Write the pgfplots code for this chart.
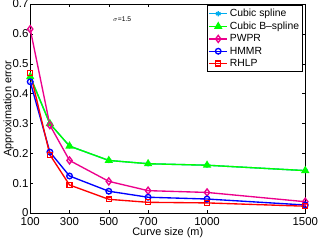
\documentclass[border=0pt]{standalone}
\usepackage{pgfplots}
\pgfplotsset{compat=1.18}
\usepackage{fontspec}
\setmainfont{Liberation Sans}
\begin{document}
\begin{tikzpicture}
\begin{axis}[
  scale only axis,
  width=264bp, height=201bp,
  xmin=100, xmax=1500, ymin=0, ymax=0.7,
  xtick={100,300,500,700,1000,1500},
  ytick={0,0.1,0.2,0.3,0.4,0.5,0.6,0.7},
  yticklabels={\raisebox{2.5bp}{0},0.1,0.2,0.3,0.4,0.5,0.6,0.7},
  xticklabels={100,300,500,700,1000,1500},
  tick align=inside,
  major tick length=3bp,
  axis line style={line width=0.9pt},
  tick style={black, line width=0.5pt},
  ticklabel style={font=\fontsize{11}{12}\selectfont},
  xticklabel style={yshift=-3.5bp, inner xsep=1pt, inner ysep=0pt, text depth=0pt},
  yticklabel style={inner xsep=1.5pt, inner ysep=0pt, text depth=0pt},
  label style={font=\fontsize{10.5}{12}\selectfont},
  xlabel={Curve size (m)},
  ylabel={Approximation error},
  xlabel style={yshift=-1.5bp, inner sep=1pt},
  ylabel style={yshift=-6bp},
  legend style={at={(1,1)}, anchor=north east, xshift=-2bp, yshift=-1bp,
    font=\fontsize{10}{12}\selectfont, draw=black, line width=0.9pt,
    inner sep=1.5pt, row sep=-0.5pt},
  legend cell align=left,
  clip=false,
  every axis plot/.append style={line width=1.3pt},
]
\addplot[cyan, mark=asterisk, mark size=2.5pt] coordinates {(100,0.457)(200,0.300)(300,0.225)(500,0.177)(700,0.166)(1000,0.161)(1500,0.143)};
\addlegendentry{Cubic spline}
\addplot[green, mark=triangle*, mark size=3.4pt] coordinates {(100,0.457)(200,0.300)(300,0.225)(500,0.177)(700,0.166)(1000,0.161)(1500,0.143)};
\addlegendentry{Cubic B--spline}
\addplot[magenta, mark=diamond, mark size=3.4pt] coordinates {(100,0.616)(200,0.295)(300,0.177)(500,0.107)(700,0.076)(1000,0.070)(1500,0.039)};
\addlegendentry{PWPR}
\addplot[blue, mark=o, mark size=2.7pt] coordinates {(100,0.440)(200,0.205)(300,0.125)(500,0.074)(700,0.054)(1000,0.048)(1500,0.028)};
\addlegendentry{HMMR}
\addplot[red, mark=square, mark size=2.4pt] coordinates {(100,0.470)(200,0.196)(300,0.095)(500,0.047)(700,0.037)(1000,0.035)(1500,0.024)};
\addlegendentry{RHLP}
\node[font=\fontsize{6.5}{7}\selectfont] at (axis cs:568,0.648) {$\sigma$=1.5};
\end{axis}
\end{tikzpicture}
\end{document}
